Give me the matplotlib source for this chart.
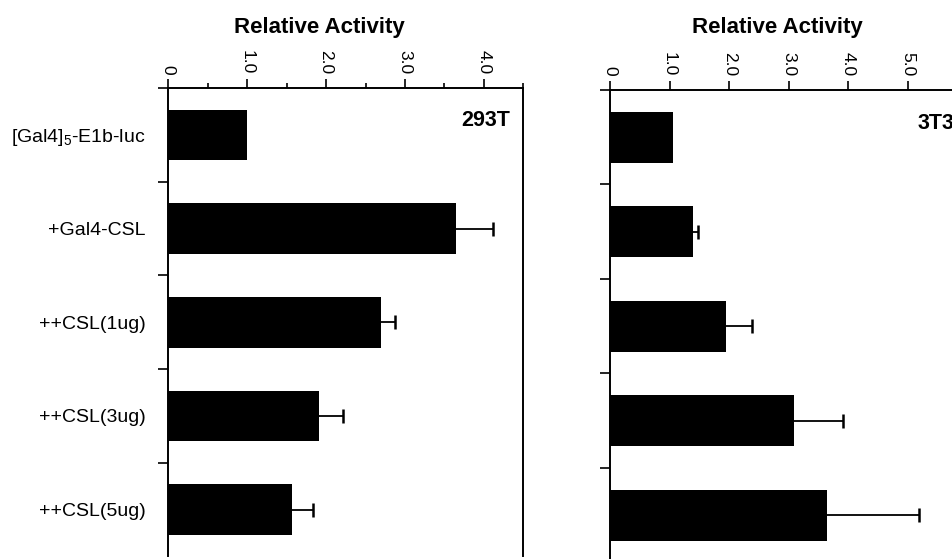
import numpy as np
import matplotlib
matplotlib.use("Agg")
import matplotlib.pyplot as plt

plt.rcParams["font.family"] = ["Liberation Sans", "DejaVu Sans"]
plt.rcParams["mathtext.fontset"] = "custom"
plt.rcParams["mathtext.rm"] = "Liberation Sans"
plt.rcParams["mathtext.default"] = "regular"

# ------------------ Data ------------------

constructs = ["[Gal4]$_5$-E1b-luc", "+Gal4-CSL", "++CSL(1ug)", "++CSL(3ug)", "++CSL(5ug)"]

act_293t = [1.0, 3.65, 2.70, 1.91, 1.57]
err_293t = [0.0, 0.47, 0.17, 0.30, 0.26]

act_3t3 = [1.05, 1.39, 1.95, 3.09, 3.64]
err_3t3 = [0.0, 0.09, 0.43, 0.82, 1.55]

ticks_293t = [0, 1, 2, 3, 4]
ticks_3t3 = [0, 1, 2, 3, 4, 5]
tick_labels_293t = ["0", "1.0", "2.0", "3.0", "4.0"]
tick_labels_3t3 = ["0", "1.0", "2.0", "3.0", "4.0", "5.0"]


# ------------------ Helpers ------------------

def draw_panel(ax, vals, errs, xmax, ticks, labels, name, name_x, minor=False):
    y = np.arange(len(vals))
    ax.barh(y, vals, height=0.54, color="black", edgecolor="none")

    # one-sided error bars (cap only at the outer end), skip the reference bar
    for yi, v, e in zip(y, vals, errs):
        if e > 0:
            _, caps, _ = ax.errorbar(v, yi, xerr=[[0], [e]], fmt="none", ecolor="black",
                                     elinewidth=1.3, capsize=5, capthick=1.8)
            for c in caps:
                if np.isclose(c.get_xdata()[0], v):
                    c.set_visible(False)

    ax.set_xlim(0, xmax)
    ax.set_ylim(len(vals) - 0.5, -0.5)

    ax.xaxis.tick_top()
    ax.set_xticks(ticks)
    ax.set_xticklabels(labels, rotation=-90, ha="center", va="bottom", fontsize=12.5)
    ax.tick_params(axis="x", which="major", direction="out", length=6.5, width=1.2, pad=3.5)
    if minor:
        ax.set_xticks(np.arange(0.5, xmax + 0.01, 1.0), minor=True)
        ax.tick_params(axis="x", which="minor", direction="out", length=3.6, width=1.2)

    # y ticks sit on the boundaries between bars
    ax.set_yticks(y)
    ax.set_yticks(np.arange(-0.5, len(vals) - 1, 1.0), minor=True)
    ax.tick_params(axis="y", which="major", length=0, pad=16.5, labelsize=14)
    ax.tick_params(axis="y", which="minor", direction="out", length=7.5, width=1.2)

    for s in ("left", "top", "right"):
        ax.spines[s].set_linewidth(1.4)
    ax.spines["bottom"].set_visible(False)

    ax.text(name_x, -0.09, name, ha="right", va="baseline", fontsize=15.5,
            fontweight="bold")


# ------------------ Figure ------------------

fig = plt.figure(figsize=(9.53, 5.59), dpi=100)

ax1 = fig.add_axes([168.3 / 953, 0.0045, 355 / 953, 0.838])
ax2 = fig.add_axes([610 / 953, -0.006, 6.0 * 59.6 / 953, 0.845])

draw_panel(ax1, act_293t, err_293t, 4.5, ticks_293t, tick_labels_293t,
           "293T", 4.33, minor=True)
ax1.set_yticklabels(constructs)

draw_panel(ax2, act_3t3, err_3t3, 6.0, ticks_3t3, tick_labels_3t3,
           "3T3", 5.78)
ax2.set_yticklabels([])

title_y = 1 - 33 / 559
fig.text(319 / 953, title_y, "Relative Activity", ha="center", va="baseline",
         fontsize=16, fontweight="bold")
fig.text(777.5 / 953, title_y, "Relative Activity", ha="center", va="baseline",
         fontsize=16, fontweight="bold")

fig.savefig("out.png", dpi=100)
